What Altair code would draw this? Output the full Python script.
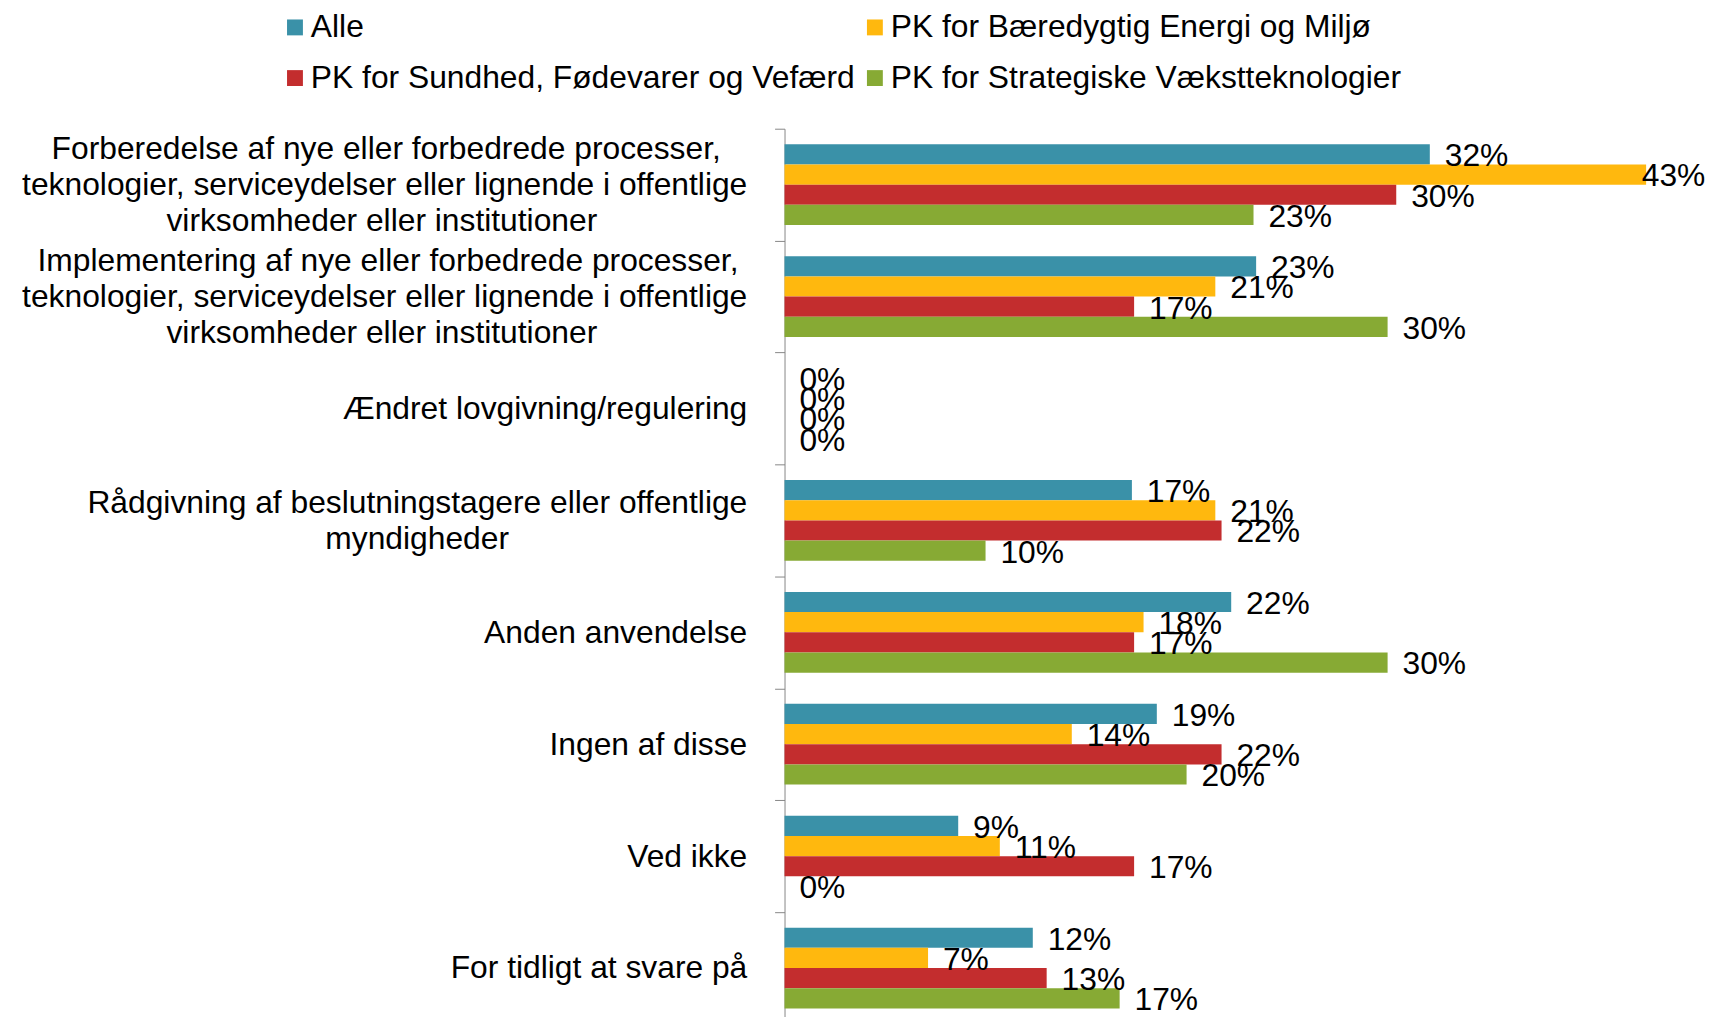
import altair as alt
import pandas as pd

FONT = "Liberation Sans"
FS = 32

# Category labels (lines of each axis label)
category_lines = [
    ["Forberedelse af nye eller forbedrede processer,",
     "teknologier, serviceydelser eller lignende i offentlige",
     "virksomheder eller institutioner"],
    ["Implementering af nye eller forbedrede processer,",
     "teknologier, serviceydelser eller lignende i offentlige",
     "virksomheder eller institutioner"],
    ["Ændret lovgivning/regulering"],
    ["Rådgivning af beslutningstagere eller offentlige",
     "myndigheder"],
    ["Anden anvendelse"],
    ["Ingen af disse"],
    ["Ved ikke"],
    ["For tidligt at svare på"],
]

series = [
    "Alle",
    "PK for Bæredygtig Energi og Miljø",
    "PK for Sundhed, Fødevarer og Vefærd",
    "PK for Strategiske Vækstteknologier",
]

# Values in percent
alle = [32.10, 23.46, 0.0, 17.28, 22.22, 18.52, 8.64, 12.35]
baeredygtig = [42.86, 21.43, 0.0, 21.43, 17.86, 14.29, 10.71, 7.14]
sundhed = [30.43, 17.39, 0.0, 21.74, 17.39, 21.74, 17.39, 13.04]
strategiske = [23.33, 30.00, 0.0, 10.00, 30.00, 20.00, 0.0, 16.67]

colors = ["#3A91A8", "#FFB80E", "#C32D2E", "#87AA34"]

# approximate Arial advance widths (per 1000 em) to centre multi-line labels
_w = {" ": 278, ",": 278, "/": 278, "f": 278, "i": 222, "j": 222, "l": 222,
      "t": 278, "r": 333, "k": 500, "s": 500, "v": 500, "y": 500, "c": 500,
      "m": 833, "æ": 889, "ø": 611, "F": 611, "I": 278, "R": 722, "Æ": 1000}


def text_w(s):
    return sum(_w.get(c, 556) for c in s)


def centre_lines(lines):
    # right-aligned lines padded with no-break spaces so that they look centred
    wmax = max(text_w(l) for l in lines)
    out = []
    for l in lines:
        n = int(round((wmax - text_w(l)) / 2 / 278))
        out.append(l + "\u00a0" * n + ("\u200b" if n else ""))
    return "\n".join(out)


categories = [centre_lines(c) for c in category_lines]

rows = []
for vals, s in zip([alle, baeredygtig, sundhed, strategiske], series):
    for c, v in zip(categories, vals):
        rows.append({"category": c, "series": s, "value": v / 100.0})
df = pd.DataFrame(rows)

yenc = alt.Y(
    "category:N",
    sort=categories,
    scale=alt.Scale(range=[0, 901.6], paddingInner=0, paddingOuter=0),
    axis=alt.Axis(
        title=None,
        labelExpr="split(datum.label, '\\n')",
        labelAlign="right",
        labelBaseline="middle",
        labelFont=FONT,
        labelFontSize=FS,
        labelColor="black",
        labelPadding=28,
        labelLineHeight=36,
        labelLimit=2000,
        labelOverlap=False,
        labelOffset={
            "condition": [
                {"test": "length(split(datum.label, '\\n')) == 3", "value": -36},
                {"test": "length(split(datum.label, '\\n')) == 2", "value": -18},
            ],
            "value": 0,
        },
        tickBand="extent",
        tickSize=10,
        tickWidth=1,
        tickColor="#868686",
        domainColor="#868686",
        domainWidth=1,
        grid=False,
    ),
)
yoff = alt.YOffset("series:N", sort=series,
                   scale=alt.Scale(paddingInner=0, paddingOuter=0.772))

base = alt.Chart(df).encode(y=yenc, yOffset=yoff)

bars = base.mark_bar().encode(
    x=alt.X("value:Q", scale=alt.Scale(domain=[0, 0.45]), axis=None),
    color=alt.Color(
        "series:N",
        sort=series,
        scale=alt.Scale(domain=series, range=colors),
        legend=alt.Legend(
            title=None,
            orient="none",
            direction="horizontal",
            legendX=-509,
            legendY=-118,
            columns=2,
            symbolType="square",
            symbolSize=256,
            symbolStrokeWidth=0,
            symbolOpacity=1,
            labelFont=FONT,
            labelFontSize=FS,
            labelColor="black",
            labelLimit=2000,
            labelOffset=0,
            columnPadding=4,
            rowPadding=19,
            padding=0,
        ),
    ),
)

labels = base.mark_text(
    align="left", baseline="middle", dx=15, dy=2,
    font=FONT, fontSize=FS, color="black",
).encode(
    x=alt.X("lx:Q", axis=None),
    text=alt.Text("value:Q", format=".0%"),
).transform_calculate(lx="min(datum.value, 0.419)")

chart = (
    alt.layer(bars, labels)
    .properties(
        width=911,
        height=891,
        autosize=alt.AutoSizeParams(type="none"),
        padding={"left": 782, "top": 118, "right": 20, "bottom": 0},
    )
    .configure(background="white")
    .configure_view(stroke=None)
)

chart.save("out.html", embed_options={"renderer": "svg", "actions": False})
